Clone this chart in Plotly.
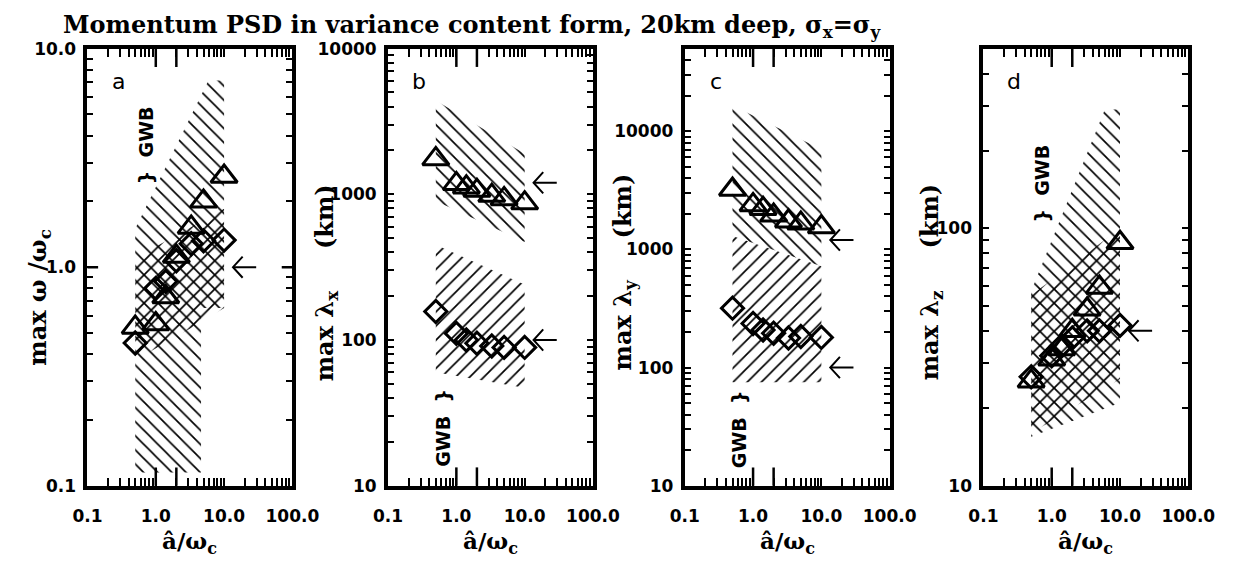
import numpy as np
import plotly.graph_objects as go

# ---------------- data ----------------
A_HAT = [0.5, 1.0, 1.4, 2.0, 3.3, 5.0, 10.0]          # a-hat / omega_c

A_TRI = [0.53, 0.55, 0.73, 1.12, 1.52, 2.0, 2.6]      # panel a  max omega/omega_c
A_DIA = [0.45, 0.80, 0.86, 1.07, 1.28, 1.32, 1.33]
B_TRI = [1750, 1180, 1120, 1060, 980, 930, 870]       # panel b  max lambda_x (km)
B_DIA = [157, 111, 100, 95, 91, 89, 89]
C_TRI = [3210, 2380, 2210, 1940, 1730, 1660, 1545]    # panel c  max lambda_y (km)
C_DIA = [318, 236, 208, 195, 178, 183, 180]
D_TRI = [25.5, 31, 34, 40, 48.5, 59, 88]              # panel d  max lambda_z (km)
D_DIA = [26.5, 32, 35, 37.5, 40, 40, 42]

# theory values marked with arrows
ARROW_X = 13.5
A_ARROWS = [1.0]
B_ARROWS = [1200, 100]
C_ARROWS = [1200, 100]
D_ARROWS = [40]

# hatched ranges (polygon vertices in data units)
A_BACK_X = [0.5, 0.5, 5.9, 10, 10, 4.6, 4.6]
A_BACK_Y = [0.115, 1.5, 7.15, 7.15, 0.65, 0.65, 0.115]
A_FRONT_X = [0.5, 0.5, 10, 10, 4.6]
A_FRONT_Y = [0.375, 1.1, 1.85, 0.65, 0.56]
B_BACK_X = [0.5, 0.5, 10, 10]
B_BACK_Y = [900, 4400, 1900, 470]
B_FRONT_X = [0.5, 0.5, 10, 10]
B_FRONT_Y = [60, 450, 240, 47]
C_BACK_X = [0.5, 0.5, 10, 10]
C_BACK_Y = [1300, 16500, 7000, 720]
C_FRONT_X = [0.5, 0.5, 10, 10]
C_FRONT_Y = [75, 1300, 720, 75]
D_BACK_X = [0.5, 0.5, 6, 10, 10]
D_BACK_Y = [15.5, 57, 290, 290, 21]
D_FRONT_X = [0.5, 0.5, 10, 10]
D_FRONT_Y = [16, 55, 100, 26]

X_TICKS = [0.1, 1, 10, 100]
X_TICKTEXT = ["0.1", "1.0", "10.0", "100.0"]
Y_RANGES = [(0.1, 10), (10, 10000), (10, 50000), (10, 500)]
Y_TICKS = [[0.1, 1, 10], [10, 100, 1000, 10000], [10, 100, 1000, 10000], [10, 100]]
Y_TICKTEXT = [["0.1", "1.0", "10.0"], ["10", "100", "1000", "10000"],
              ["10", "100", "1000", "10000"], ["10", "100"]]
Y_TITLES = ["max ω /ω<sub>c</sub>", "max λ<sub>x</sub>     (km)",
            "max λ<sub>y</sub>     (km)", "max λ<sub>z</sub>     (km)"]
PANEL_LETTERS = ["a", "b", "c", "d"]
GWB_TEXT = ["}  GWB", "GWB  }", "GWB  }", "}  GWB"]
GWB_POS = [(0.71, 3.6), (0.64, 25), (0.64, 30), (0.73, 150)]
TITLE = "Momentum PSD in variance content form, 20km deep, σ<sub>x</sub>=σ<sub>y</sub>"

# ---------------- layout geometry (pixels) ----------------
W, H = 1253, 571
PANEL_LEFT = [75, 386, 693, 1002]
PANEL_W = 212
TOP, BOTTOM = 40, 493
PANEL_H = BOTTOM - TOP
PPD_X = PANEL_W / 3.0
X_MAJOR_LEN, X_MINOR_LEN = 19, 8
Y_MAJOR_LEN, Y_MINOR_LEN = 11, 6

TRI = [A_TRI, B_TRI, C_TRI, D_TRI]
DIA = [A_DIA, B_DIA, C_DIA, D_DIA]
ARROWS = [A_ARROWS, B_ARROWS, C_ARROWS, D_ARROWS]
BACK = [(A_BACK_X, A_BACK_Y), (B_BACK_X, B_BACK_Y), (C_BACK_X, C_BACK_Y), (D_BACK_X, D_BACK_Y)]
FRONT = [(A_FRONT_X, A_FRONT_Y), (B_FRONT_X, B_FRONT_Y), (C_FRONT_X, C_FRONT_Y), (D_FRONT_X, D_FRONT_Y)]

BOLD_SERIF = dict(family="DejaVu Serif", color="black", weight="bold")
BOLD_SANS = dict(family="DejaVu Sans", color="black", weight="bold")


def minor_vals(lo, hi):
    vals = []
    e = int(np.floor(np.log10(lo) + 1e-9))
    while 10.0 ** e < hi:
        for m in range(2, 10):
            v = m * 10.0 ** e
            if lo * 1.0001 < v < hi * 0.9999:
                vals.append(v)
        e += 1
    return vals


def all_ticks(majors, labels, lo, hi):
    mins = minor_vals(lo, hi)
    vals = list(majors) + mins
    text = list(labels) + [""] * len(mins)
    return vals, text


fig = go.Figure()
annotations = []
shapes = []
layout = {}

for k in range(4):
    xa = "x" if k == 0 else f"x{k+1}"
    ya = "y" if k == 0 else f"y{k+1}"
    ylo, yhi = Y_RANGES[k]
    ppd_y = PANEL_H / (np.log10(yhi) - np.log10(ylo))

    # hatched areas
    for (hx, hy), shape in ((BACK[k], "\\"), (FRONT[k], "/")):
        fig.add_trace(go.Scatter(
            x=list(hx) + [hx[0]], y=list(hy) + [hy[0]], xaxis=xa, yaxis=ya,
            mode="lines", line=dict(width=0, color="rgba(0,0,0,0)"),
            fill="toself", fillcolor="rgba(0,0,0,0)",
            fillpattern=dict(shape=shape, fgcolor="black", bgcolor="rgba(0,0,0,0)",
                             fgopacity=1, size=10, solidity=0.17),
            hoverinfo="skip", showlegend=False))

    # arrows
    for yv in ARROWS[k]:
        tail = ARROW_X * 10 ** (24 / PPD_X)
        arm_x = ARROW_X * 10 ** (10 / PPD_X)
        dy = 10 ** (11 / ppd_y)
        fig.add_trace(go.Scatter(
            x=[tail, ARROW_X, None, arm_x, ARROW_X, arm_x],
            y=[yv, yv, None, yv * dy, yv, yv / dy],
            xaxis=xa, yaxis=ya, mode="lines",
            line=dict(color="black", width=2), hoverinfo="skip", showlegend=False))

    # markers
    fig.add_trace(go.Scatter(x=A_HAT, y=TRI[k], xaxis=xa, yaxis=ya, mode="markers",
                             marker=dict(symbol="triangle-up-open", size=23, color="black",
                                         line=dict(width=3, color="black")),
                             showlegend=False))
    fig.add_trace(go.Scatter(x=A_HAT, y=DIA[k], xaxis=xa, yaxis=ya, mode="markers",
                             marker=dict(symbol="diamond-open", size=17, color="black",
                                         line=dict(width=3, color="black")),
                             showlegend=False))

    x0 = PANEL_LEFT[k] / W
    x1 = (PANEL_LEFT[k] + PANEL_W) / W
    common = dict(showline=True, linewidth=4, linecolor="black", mirror="allticks",
                  showgrid=False, zeroline=False, ticks="inside", tickcolor="black",
                  tickwidth=2)
    xv, xt = all_ticks(X_TICKS, X_TICKTEXT, 0.1, 100)
    yv_, yt = all_ticks(Y_TICKS[k], Y_TICKTEXT[k], ylo, yhi)
    layout["xaxis" if k == 0 else f"xaxis{k+1}"] = dict(
        type="log", range=[-1, 2], domain=[x0, x1], anchor=ya,
        tickmode="array", tickvals=xv, ticktext=xt, ticklen=X_MINOR_LEN,
        tickfont=dict(size=17, **BOLD_SANS), ticklabelstandoff=12,
        **common)
    layout["yaxis" if k == 0 else f"yaxis{k+1}"] = dict(
        type="log", range=[np.log10(ylo), np.log10(yhi)],
        domain=[1 - BOTTOM / H, 1 - TOP / H], anchor=xa,
        tickmode="array", tickvals=yv_, ticktext=yt, ticklen=Y_MINOR_LEN,
        tickfont=dict(size=17, **BOLD_SANS), ticklabelstandoff=4,
        **common)

    # long major ticks (bottom/top and left/right)
    for v in X_TICKS:
        for y0, y1 in ((0, X_MAJOR_LEN / PANEL_H), (1, 1 - X_MAJOR_LEN / PANEL_H)):
            shapes.append(dict(type="line", xref=xa, yref=f"{ya} domain",
                               x0=np.log10(v), x1=np.log10(v), y0=y0, y1=y1,
                               line=dict(color="black", width=2.5)))
    for v in Y_TICKS[k]:
        for xx0, xx1 in ((0, Y_MAJOR_LEN / PANEL_W), (1, 1 - Y_MAJOR_LEN / PANEL_W)):
            shapes.append(dict(type="line", xref=f"{xa} domain", yref=ya,
                               x0=xx0, x1=xx1, y0=np.log10(v), y1=np.log10(v),
                               line=dict(color="black", width=2.5)))

    # x-axis title
    annotations.append(dict(text="â/ω<sub>c</sub>", xref="paper", yref="paper",
                            x=(PANEL_LEFT[k] + PANEL_W / 2) / W, y=1 - 552 / H,
                            xanchor="center", yanchor="middle", showarrow=False,
                            font=dict(size=23, **BOLD_SERIF)))
    # panel letter
    annotations.append(dict(text=PANEL_LETTERS[k], xref="paper", yref="paper",
                            x=(PANEL_LEFT[k] + 32) / W, y=1 - 74 / H,
                            xanchor="center", yanchor="middle", showarrow=False,
                            font=dict(size=22, family="DejaVu Sans", color="black")))
    # GWB label
    gx, gy = GWB_POS[k]
    annotations.append(dict(text=GWB_TEXT[k], xref=xa, yref=ya,
                            x=np.log10(gx), y=np.log10(gy), textangle=-90,
                            xanchor="center", yanchor="middle", showarrow=False,
                            font=dict(size=19, **BOLD_SANS)))

# y-axis titles
Y_TITLE_POS = [(24, 298), (322, 283), (630, 271), (948, 282)]
for k in range(4):
    px, py = Y_TITLE_POS[k]
    annotations.append(dict(text=Y_TITLES[k], xref="paper", yref="paper",
                            x=px / W, y=1 - py / H, textangle=-90,
                            xanchor="center", yanchor="middle", showarrow=False,
                            font=dict(size=24, **BOLD_SERIF)))

annotations.append(dict(text=TITLE, xref="paper", yref="paper", x=48 / W, y=1 - 17 / H,
                        xanchor="left", yanchor="middle", showarrow=False,
                        font=dict(size=24, **BOLD_SERIF)))

fig.update_layout(width=W, height=H, margin=dict(l=0, r=0, t=0, b=0),
                  paper_bgcolor="white", plot_bgcolor="white", showlegend=False,
                  annotations=annotations, shapes=shapes, **layout)

fig.write_html("out.html", config={"displayModeBar": False},
               post_script="document.body.style.margin='0';")
